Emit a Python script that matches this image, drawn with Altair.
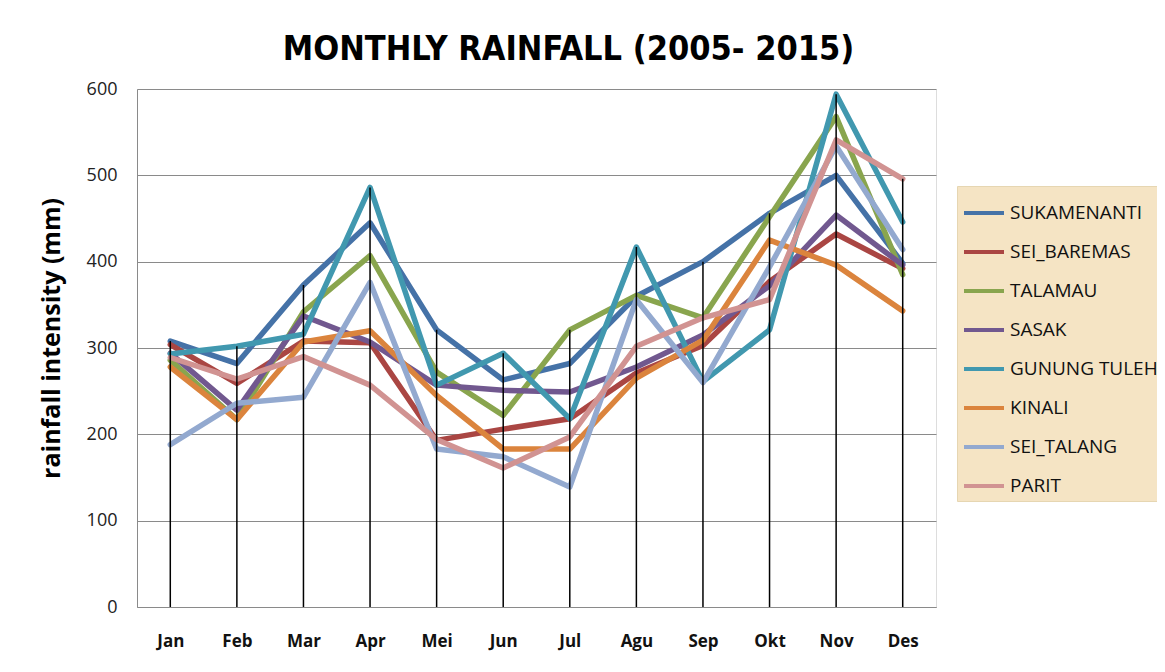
import altair as alt
import pandas as pd

months = ["Jan", "Feb", "Mar", "Apr", "Mei", "Jun", "Jul", "Agu", "Sep", "Okt", "Nov", "Des"]

series_names = ["SUKAMENANTI", "SEI_BAREMAS", "TALAMAU", "SASAK",
                "GUNUNG TULEH", "KINALI", "SEI_TALANG", "PARIT"]

sukamenanti = [308, 282, 373, 445, 321, 263, 282, 360, 400, 456, 500, 398]
sei_baremas = [304, 259, 308, 306, 193, 206, 218, 271, 303, 377, 432, 392]
talamau = [286, 217, 342, 407, 272, 222, 321, 361, 335, 452, 568, 385]
sasak = [294, 228, 337, 307, 257, 251, 249, 278, 315, 372, 454, 396]
gunung_tuleh = [293, 302, 316, 486, 257, 294, 218, 417, 261, 321, 594, 446]
kinali = [278, 217, 307, 320, 245, 183, 183, 265, 309, 425, 396, 343]
sei_talang = [188, 236, 243, 376, 183, 174, 139, 356, 260, 394, 534, 414]
parit = [289, 264, 290, 257, 194, 161, 197, 302, 335, 356, 541, 496]

colors = ["#4572A7", "#AA4643", "#89A54E", "#71588F",
          "#4198AF", "#DB843D", "#93A9CF", "#D19392"]

y_ticks = [0, 100, 200, 300, 400, 500, 600]

all_values = [sukamenanti, sei_baremas, talamau, sasak,
              gunung_tuleh, kinali, sei_talang, parit]

rows = []
for name, vals in zip(series_names, all_values):
    for m, v in zip(months, vals):
        rows.append({"station": name, "month": m, "rain": v})
df = pd.DataFrame(rows)

x_enc = alt.X(
    "month:N", sort=months,
    scale=alt.Scale(type="point", padding=0.5),
    axis=alt.Axis(title=None, labelAngle=0, labelFont="Open Sans",
                  labelFontWeight="bold", labelFontSize=17, labelColor="#111111",
                  labelPadding=26, ticks=False, domainColor="#8a8a8a",
                  domainWidth=1, grid=False),
)

y_enc = alt.Y(
    "rain:Q",
    scale=alt.Scale(domain=[0, 600], nice=False),
    axis=alt.Axis(values=y_ticks, title="rainfall intensity  (mm)",
                  titleFont="Open Sans", titleFontWeight="bold", titleFontSize=25,
                  titleColor="#000000", titlePadding=22, titleY=249,
                  labelFont="Open Sans", labelFontSize=18, labelColor="#222222",
                  labelPadding=20, ticks=False, domainColor="#8a8a8a",
                  gridColor="#8a8a8a", gridWidth=1),
)

lines = alt.Chart(df).mark_line(strokeWidth=5.5, strokeJoin="round", strokeCap="round").encode(
    x=x_enc,
    y=y_enc,
    color=alt.Color(
        "station:N", sort=series_names,
        scale=alt.Scale(domain=series_names, range=colors),
        legend=alt.Legend(title=None, orient="none", legendX=820, legendY=97,
                          fillColor="#F5E4C4", strokeColor="#E6D6B2", padding=5,
                          symbolType="stroke", symbolStrokeWidth=4, symbolSize=1600,
                          labelFont="Open Sans", labelFontSize=19, labelColor="#111111",
                          rowPadding=7, labelOffset=4),
    ),
)

drops = alt.Chart(df).transform_aggregate(
    top="max(rain)", groupby=["month"]
).transform_calculate(
    base="0"
).mark_rule(color="black", strokeWidth=1.5).encode(
    x=alt.X("month:N", sort=months),
    y=alt.Y("base:Q"),
    y2=alt.Y2("top:Q"),
)

chart = alt.layer(lines, drops).properties(
    width=799,
    height=518,
    autosize=alt.AutoSizeParams(type="none"),
    padding={"left": 129, "top": 81, "right": 221, "bottom": 57},
    title=alt.TitleParams("MONTHLY RAINFALL  (2005- 2015)",
                          font="Liberation Sans Narrow, DejaVu Sans Condensed, Liberation Sans, Arial",
                          fontSize=34,
                          fontWeight="bold", color="#000000", anchor="middle",
                          dx=32, offset=13),
).configure_view(strokeWidth=0).configure(background="white")

chart.save("out.html", embed_options={"renderer": "svg", "actions": False})
